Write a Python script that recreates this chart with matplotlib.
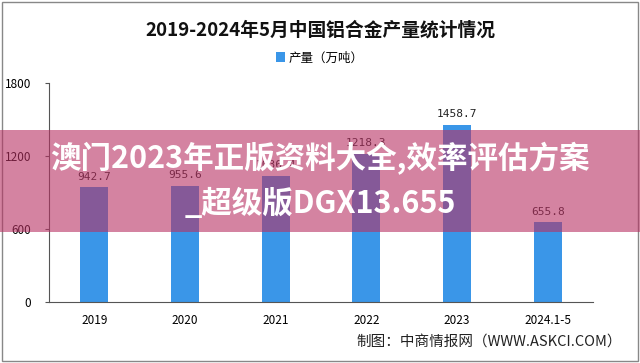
import matplotlib.pyplot as plt
from matplotlib.patches import Rectangle

plt.rcParams['font.family'] = ['Noto Sans CJK SC', 'DejaVu Sans']

# 数据
years = ['2019', '2020', '2021', '2022', '2023', '2024.1-5']
output = [942.7, 955.6, 1036.4, 1218.3, 1458.7, 655.8]
yticks = [0, 600, 1200, 1800]

title = '2019-2024年5月中国铝合金产量统计情况'
legend_label = '产量（万吨）'
source = '制图：中商情报网（WWW.ASKCI.COM）'
banner1 = '澳门2023年正版资料大全,效率评估方案'
banner2 = '_超级版DGX13.655'

fig = plt.figure(figsize=(6.4, 3.63), dpi=100)
ax = fig.add_axes([49/640, 1 - 302/363, 544/640, 219/363])

x = range(len(years))
ax.bar(x, output, width=0.31, color='#3a96e8', label=legend_label, zorder=2)
for i, v in enumerate(output):
    ax.text(i, v + 45, f'{v:.1f}', ha='center', va='bottom', fontsize=8,
            family=['DejaVu Sans Mono'], color='#222222')

ax.set_xlim(-0.5, 5.5)
ax.set_ylim(0, 1800)
ax.set_yticks(yticks)
ax.set_yticklabels([str(t) for t in yticks], fontsize=8.5)
ax.set_xticks(list(x))
ax.set_xticklabels(years, fontsize=8.5)
ax.tick_params(axis='x', length=0, pad=9)
ax.tick_params(axis='y', length=3, pad=10, color='#555555')
for s in ['top', 'right']:
    ax.spines[s].set_visible(False)
ax.spines['left'].set_color('#555555')
ax.spines['bottom'].set_color('#555555')

fig.text(0.5, 1 - 30/363, title, ha='center', va='center', fontsize=13.5,
         color='#111111', fontweight='bold')
fig.legend(loc='center', bbox_to_anchor=(0.5, 1 - 58/363), frameon=False,
           fontsize=9, handlelength=0.7, handleheight=0.9, handletextpad=0.3)
fig.text(622/640, 1 - 342/363, source, ha='right', va='center', fontsize=10.5,
         color='#222222')

# 外框
fig.patches.append(Rectangle((0.003, 0.005), 0.994, 0.99, transform=fig.transFigure,
                             fill=False, edgecolor='#888888', lw=1))

# 横幅
fig.patches.append(Rectangle((0, 1 - 232/363), 1, 102/363, transform=fig.transFigure,
                             facecolor=(184/255, 49/255, 99/255), alpha=0.6,
                             zorder=5))
fig.text(0.5, 1 - 159/363, banner1, ha='center', va='center', fontsize=22,
         color='white', fontweight='bold', zorder=6)
fig.text(0.5, 1 - 204/363, banner2, ha='center', va='center', fontsize=22,
         color='white', fontweight='bold', zorder=6)

fig.savefig('out.png', dpi=100)
